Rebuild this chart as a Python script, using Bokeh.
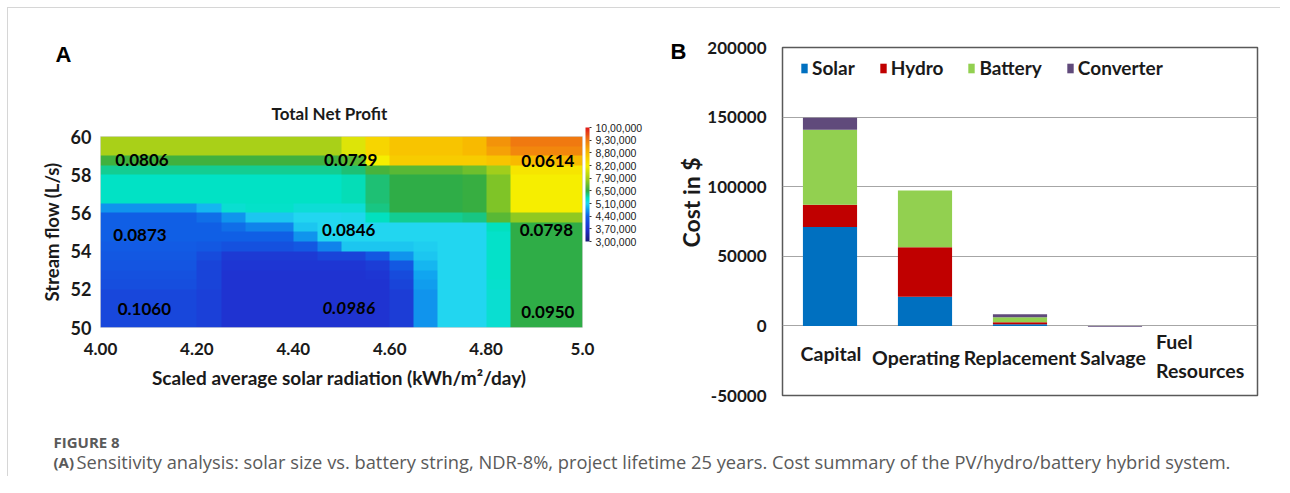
import numpy as np
from bokeh.plotting import figure
from bokeh.models import (Range1d, FactorRange, ColumnDataSource, LinearColorMapper, ColorBar,
                          FixedTicker, Label, NumeralTickFormatter, Title, AllLabels)
from bokeh.layouts import row, column
from bokeh.embed import file_html
from bokeh.resources import INLINE
from bokeh.core.properties import value

# ---------------- Panel A data ----------------
radiation_ticks = [4.0, 4.2, 4.4, 4.6, 4.8, 5.0]
radiation_tick_labels = ["4.00", "4.20", "4.40", "4.60", "4.80", "5.0"]
flow_ticks = [50, 52, 54, 56, 58, 60]

# colour-bar levels of total net profit (thousands) and their labels
profit_levels_k = [300, 370, 440, 510, 650, 790, 820, 880, 930, 1000]
profit_level_labels = ["3,00,000", "3,70,000", "4,40,000", "5,10,000", "6,50,000",
                       "7,90,000", "8,20,000", "8,80,000", "9,30,000", "10,00,000"]

# total net profit (thousands); rows from stream flow 60 (top) down to 50,
# columns from radiation 4.0 to 5.0
net_profit_k = [
    [790]*10 + [810, 850, 870, 870, 870, 880, 910, 930, 930, 930],
    [790]*10 + [810, 850, 870, 870, 870, 880, 900, 920, 920, 920],
    [670]*10 + [700, 820, 860, 860, 860, 860, 870, 880, 880, 880],
    [600]*10 + [620, 680, 700, 700, 700, 720, 780, 830, 830, 830],
    [565]*10 + [575, 620, 650, 650, 650, 660, 740, 820, 820, 820],
    [565]*10 + [575, 620, 650, 650, 650, 660, 740, 820, 820, 820],
    [565]*10 + [575, 620, 650, 650, 650, 660, 740, 820, 820, 820],
    [470, 470, 470, 470, 490, 550, 560, 560, 545, 545, 545, 610, 650, 650, 650, 660, 740, 820, 820, 820],
    [440, 440, 440, 440, 450, 470, 500, 500, 510, 510, 515, 570, 600, 600, 600, 610, 700, 760, 760, 760],
    [440, 440, 440, 440, 440, 450, 460, 460, 500, 510, 510, 510, 510, 510, 510, 510, 570, 650, 650, 650],
    [440, 440, 440, 440, 440, 440, 440, 440, 470, 510, 510, 510, 510, 510, 510, 510, 560, 650, 650, 650],
    [435, 435, 435, 435, 430, 420, 420, 420, 430, 460, 500, 500, 500, 505, 510, 510, 560, 650, 650, 650],
    [430, 430, 430, 430, 410, 385, 385, 385, 385, 400, 400, 430, 470, 500, 510, 510, 560, 650, 650, 650],
    [425, 425, 425, 425, 400, 380, 380, 380, 380, 380, 380, 390, 430, 490, 510, 510, 560, 650, 650, 650],
    [420, 420, 420, 420, 400, 375, 375, 375, 375, 375, 375, 380, 410, 480, 510, 510, 560, 650, 650, 650],
    [415, 415, 415, 415, 400, 375, 375, 375, 375, 375, 375, 375, 400, 475, 510, 510, 555, 650, 650, 650],
    [405, 405, 405, 405, 395, 375, 375, 375, 375, 375, 375, 375, 390, 470, 510, 510, 550, 650, 650, 650],
    [405, 405, 405, 405, 395, 375, 375, 375, 375, 375, 375, 375, 390, 470, 510, 510, 550, 650, 650, 650],
    [405, 405, 405, 405, 395, 375, 375, 375, 375, 375, 375, 375, 390, 470, 510, 510, 550, 650, 650, 650],
    [405, 405, 405, 405, 395, 375, 375, 375, 375, 375, 375, 375, 390, 470, 510, 510, 550, 650, 650, 650],
]

# COE annotations
coe_text = ["0.0806", "0.0729", "0.0614", "0.0873", "0.0846", "0.0798", "0.1060", "0.0986", "0.0950"]
coe_radiation = [4.086, 4.519, 4.928, 4.082, 4.515, 4.925, 4.091, 4.515, 4.928]
coe_flow = [58.77, 58.77, 58.7, 54.82, 55.09, 55.09, 50.96, 51.0, 50.79]
coe_style = ["bold", "bold", "bold", "bold", "bold", "bold", "bold", "bold italic", "bold"]

# ---------------- Panel B data ----------------
cost_categories = ["Capital", "Operating", "Replacement", "Salvage", "Fuel Resources"]
cost_category_labels = ["Capital", "Operating", "Replacement", "Salvage", "Fuel\nResources"]
solar_cost = [71000, 21000, 1200, 0, 0]
hydro_cost = [16000, 35500, 1500, 0, 0]
battery_cost = [54000, 40700, 3600, 0, 0]
converter_cost = [8500, 0, 2000, -700, 0]
cost_ticks = [-50000, 0, 50000, 100000, 150000, 200000]

# ---------------- palette (style) ----------------
stops = [(0, "#1a1a78"), (1, "#2030d0"), (2, "#1060e6"), (2.6, "#10a8f0"), (3, "#22d6f0"),
         (3.4, "#00e2c4"), (4, "#30ac44"), (5, "#a8d018"), (6, "#f6ee00"), (7, "#f8bc00"),
         (8, "#f07a10"), (9, "#e01818")]
sp = np.array([s[0] for s in stops], dtype=float)
rgb = np.array([[int(c[i:i + 2], 16) for i in (1, 3, 5)] for _, c in stops], dtype=float)
tt = np.linspace(0, 9, 256)
palette = ["#%02x%02x%02x" % tuple(int(round(np.interp(t, sp, rgb[:, k]))) for k in range(3)) for t in tt]

FONT = "Lato"
DARK = "#1a1a1a"


def no_align(p):
    if "frame_align" in p.properties():
        p.frame_align = False


# ---------------- Panel A ----------------
pA = figure(width=660, height=400, output_backend="svg", toolbar_location=None, title=None,
            x_range=Range1d(4.0, 5.0), y_range=Range1d(50, 60),
            min_border_left=92, min_border_right=86, min_border_top=128, min_border_bottom=81)
no_align(pA)
pA.outline_line_color = "#d9d9d9"
pA.grid.visible = False

grid = np.flipud(np.array(net_profit_k, dtype=float))
pos = np.interp(grid, profit_levels_k, np.arange(len(profit_levels_k)))
mapper = LinearColorMapper(palette=palette, low=0, high=9)
pA.image(image=[pos], x=4.0, y=50, dw=1.0, dh=10, color_mapper=mapper)

src_coe = ColumnDataSource(dict(x=coe_radiation, y=coe_flow, t=coe_text, s=coe_style))
pA.text(x="x", y="y", text="t", source=src_coe, text_font=value(FONT), text_font_size="17px",
        text_font_style="s", text_color="#000000", text_align="center", text_baseline="middle")

pA.xaxis.ticker = FixedTicker(ticks=radiation_ticks)
pA.xaxis.major_label_overrides = {t: l for t, l in zip(radiation_ticks, radiation_tick_labels)}
pA.yaxis.ticker = FixedTicker(ticks=flow_ticks)
for ax in (pA.xaxis[0], pA.yaxis[0]):
    ax.axis_line_color = None
    ax.major_tick_line_color = None
    ax.minor_tick_line_color = None
    ax.major_tick_out = 0
    ax.major_tick_in = 0
    ax.minor_tick_out = 0
    ax.minor_tick_in = 0
    ax.major_label_text_font = FONT
    ax.major_label_text_font_style = "bold"
    ax.major_label_text_color = DARK
    ax.axis_label_text_font = FONT
    ax.axis_label_text_font_style = "bold"
    ax.axis_label_text_color = DARK
pA.xaxis.major_label_text_font_size = "17px"
pA.yaxis.major_label_text_font_size = "18px"
pA.xaxis.major_label_standoff = 15
pA.xaxis.axis_label = "Scaled average solar radiation  (kWh/m\u00b2/day)"
pA.xaxis.axis_label_text_font_size = "19px"
pA.xaxis.axis_label_standoff = 8
pA.yaxis.major_label_standoff = 9
pA.yaxis.axis_label = "Stream flow (L/s)"
pA.yaxis.axis_label_text_font_size = "18.5px"
pA.yaxis.axis_label_standoff = 5

cb = ColorBar(color_mapper=mapper, location=(485, 86), width=4, height=114, padding=0,
              ticker=FixedTicker(ticks=list(range(10))),
              major_label_overrides={i: l for i, l in enumerate(profit_level_labels)},
              major_label_text_font="Liberation Sans", major_label_text_font_size="10.5px",
              major_label_text_color=DARK, label_standoff=4,
              major_tick_in=0, major_tick_out=2, major_tick_line_color="#333333",
              bar_line_color=None, background_fill_alpha=0, border_line_color=None)
if "major_label_policy" in cb.properties():
    cb.major_label_policy = AllLabels()
pA.add_layout(cb)

pA.add_layout(Title(text="Total Net Profit", align="left", offset=171, standoff=26,
                    text_font=FONT, text_font_style="bold", text_font_size="17px",
                    text_color=DARK), "above")
pA.add_layout(Title(text="A", align="left", offset=-45, standoff=41,
                    text_font="Liberation Sans", text_font_style="bold", text_font_size="22px",
                    text_color="#000000"), "above")

# ---------------- Panel B ----------------
pB = figure(width=612, height=400, output_backend="svg", toolbar_location=None,
            x_range=FactorRange(*cost_categories), y_range=Range1d(-50000, 200000),
            min_border_left=114, min_border_right=23, min_border_top=39, min_border_bottom=13)
no_align(pB)
pB.outline_line_color = "#595959"
pB.outline_line_width = 1.5
pB.xgrid.visible = False
pB.ygrid.ticker = FixedTicker(ticks=cost_ticks)
pB.ygrid.grid_line_color = "#a6a6a6"
pB.ygrid.grid_line_width = 1
pB.xaxis.visible = False

src_cost = ColumnDataSource(dict(cat=cost_categories, solar=solar_cost, hydro=hydro_cost,
                                 battery=battery_cost, converter=converter_cost))
pB.vbar_stack(["solar", "hydro", "battery", "converter"], x="cat", width=0.57, source=src_cost,
              color=["#0070c0", "#c00000", "#92d050", "#604a7b"],
              legend_label=["Solar", "Hydro", "Battery", "Converter"], line_color=None)

src_lab = ColumnDataSource(dict(cat=cost_categories, t=cost_category_labels,
                                dx=[1, -9, 0, -2, -54], dy=[-4, 0, 0, 0, -2],
                                al=["center", "center", "center", "center", "left"]))
pB.text(x="cat", y=-23000, text="t", source=src_lab, x_offset="dx", y_offset="dy",
        text_align="al", text_baseline="middle", text_font=value(FONT), text_font_style="bold",
        text_font_size="19.5px", text_color=DARK, text_line_height=1.25)

ya = pB.yaxis[0]
ya.ticker = FixedTicker(ticks=cost_ticks)
ya.formatter = NumeralTickFormatter(format="0")
ya.axis_line_color = None
ya.major_tick_line_color = None
ya.minor_tick_line_color = None
ya.major_tick_out = 0
ya.major_tick_in = 0
ya.minor_tick_out = 0
ya.minor_tick_in = 0
ya.major_label_text_font = FONT
ya.major_label_text_font_style = "bold"
ya.major_label_text_font_size = "17px"
ya.major_label_text_color = DARK
ya.major_label_standoff = 16

pB.add_layout(Title(text="Cost in $", align="left", offset=148, standoff=0,
                    text_font=FONT, text_font_style="bold", text_font_size="23px",
                    text_color=DARK), "left")

lg = pB.legend[0]
lg.orientation = "horizontal"
lg.location = (18, 316)
lg.margin = 0
lg.padding = 0
lg.spacing = 24
lg.glyph_width = 8
lg.glyph_height = 12
lg.label_standoff = 4
lg.border_line_color = None
lg.background_fill_alpha = 0
lg.label_text_font = FONT
lg.label_text_font_style = "bold"
lg.label_text_font_size = "19px"
lg.label_text_color = DARK

pB.add_layout(Title(text="B", align="left", offset=-112, standoff=-32,
                    text_font="Liberation Sans", text_font_style="bold", text_font_size="22px",
                    text_color="#000000"), "above")

# ---------------- Caption ----------------
pC = figure(width=1272, height=68, output_backend="svg", toolbar_location=None,
            x_range=Range1d(0, 1), y_range=Range1d(0, 1),
            min_border_left=0, min_border_right=0, min_border_top=0, min_border_bottom=0)
no_align(pC)
pC.axis.visible = False
pC.grid.visible = False
pC.outline_line_color = None
pC.add_layout(Label(x=45, y=35, x_units="screen", y_units="screen", text="FIGURE 8",
                    text_font="Open Sans", text_font_style="bold", text_font_size="15px",
                    text_color="#5a5a5a", text_baseline="middle"))
pC.add_layout(Label(x=45, y=15, x_units="screen", y_units="screen", text="(A)",
                    text_font="Open Sans", text_font_style="bold", text_font_size="15px",
                    text_color="#5a5a5a", text_baseline="middle"))
pC.add_layout(Label(x=68, y=15, x_units="screen", y_units="screen",
                    text="Sensitivity analysis: solar size vs. battery string, NDR-8%, project lifetime 25 years. "
                         "Cost summary of the PV/hydro/battery hybrid system.",
                    text_font="Open Sans", text_font_size="18.3px",
                    text_color="#5a5a5a", text_baseline="middle"))

layout = column(row(pA, pB), pC,
                styles={"margin-left": "7px", "margin-top": "7px",
                        "border-top": "1px solid #d6d6d6", "border-left": "1px solid #d6d6d6"})

with open("out.html", "w") as f:
    f.write(file_html(layout, INLINE))
